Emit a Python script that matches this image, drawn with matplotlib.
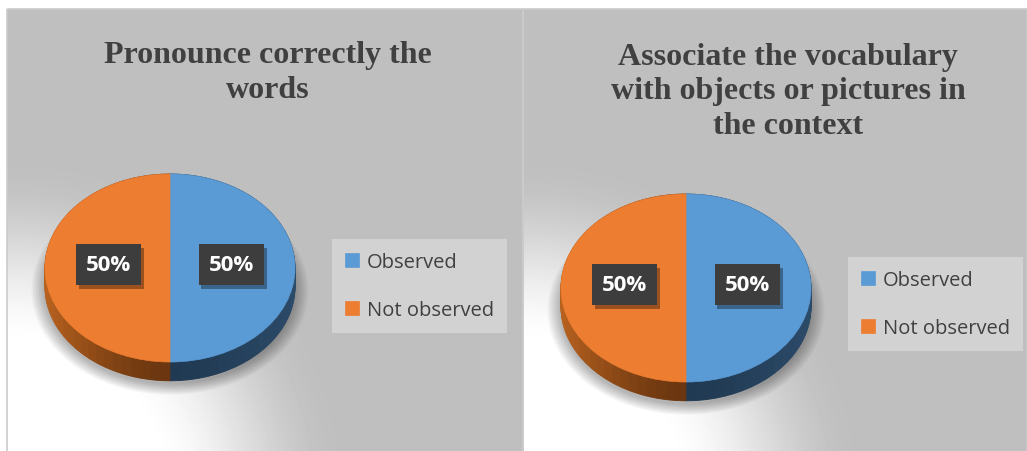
import numpy as np
import matplotlib.pyplot as plt
from matplotlib import colors as mcolors
from matplotlib import patheffects as pe
from matplotlib.patches import Rectangle

# data
titles = ["Pronounce correctly the\nwords",
          "Associate the vocabulary\nwith objects or pictures in\nthe context"]
categories = ["Observed", "Not observed"]
pronounce_shares = [50, 50]
associate_shares = [50, 50]

top_colors = ["#5b9bd5", "#ed7d31"]
side_dark = ["#213a53", "#6a3610"]
side_light = ["#2c4b69", "#b8621f"]

W, H = 1027, 452
fig = plt.figure(figsize=(W / 100, H / 100), dpi=100)
fig.patch.set_facecolor("white")

bg = fig.add_axes([0, 0, 1, 1])
bg.set_xlim(0, W)
bg.set_ylim(H, 0)
bg.axis("off")

# panel layout (pixels): left, right, pie centre, title centre, legend corner
panels = [
    dict(x0=7, x1=523, cx=170, cy=269, tx=268, ty=73, lx=332, ly=240),
    dict(x0=523, x1=1027, cx=686, cy=289, tx=788, ty=92, lx=848, ly=258),
]
rx, ry = 125, 94
depth = 0.2


def panel_background(p):
    xs = np.arange(p["x0"], p["x1"])
    ys = np.arange(10, H)
    X, Y = np.meshgrid(xs, ys)
    r = np.hypot(X - p["x0"], Y - 500)
    t = np.clip((r - 150) / 190, 0, 1)
    t = t * t * (3 - 2 * t)
    val = (255 * (1 - t) + 191 * t) / 255
    bg.imshow(val, cmap="gray", vmin=0, vmax=1, extent=(p["x0"], p["x1"], H, 10),
              interpolation="bilinear", aspect="auto", zorder=0)
    bg.add_patch(Rectangle((p["x0"], 10), p["x1"] - p["x0"], H, fill=False,
                           ec="#cbcbcb", lw=1.2, zorder=1))


def side_colors(values, n=40):
    total = float(sum(values))
    cols, parts = [], []
    cum = 0.0
    for i, v in enumerate(values):
        for k in range(n):
            ang = np.deg2rad(90 - (cum + (k + 0.5) * v / n) / total * 360)
            f = abs(np.cos(ang)) ** 1.5
            c0 = np.array(mcolors.to_rgb(side_dark[i]))
            c1 = np.array(mcolors.to_rgb(side_light[i]))
            cols.append(c0 * (1 - f) + c1 * f)
            parts.append(v / n)
        cum += v
    return parts, cols


def match_edges(wedges, lw):
    for w in wedges:
        w.set_edgecolor(w.get_facecolor())
        w.set_linewidth(lw)


def draw_pie(p, values, title):
    panel_background(p)
    xl, xr = -1.2, 1.2
    yb, yt = -1.4, 1.1
    left = p["cx"] + xl * rx
    bottom_px = p["cy"] - yb * ry
    ax = fig.add_axes([left / W, (H - bottom_px) / H,
                       (xr - xl) * rx / W, (yt - yb) * ry / H])

    # soft shadow
    for k in range(10):
        ax.pie(values, colors=["black"] * len(values), radius=1.0 + 0.012 * k,
               center=(0, -depth - 0.04), startangle=90, counterclock=False,
               wedgeprops=dict(alpha=0.03, lw=0))

    parts, cols = side_colors(values)
    for d in np.linspace(depth, 0.0, 24):
        sw, _ = ax.pie(parts, colors=cols, center=(0, -d), startangle=90,
                       counterclock=False)
        match_edges(sw, 0.6)

    wedges, _, autotexts = ax.pie(values, colors=top_colors, startangle=90,
                                  counterclock=False, autopct="%d%%", pctdistance=0.49,
                                  textprops=dict(color="white", fontsize=16,
                                                 family="Open Sans", weight="bold"))
    match_edges(wedges, 0.5)
    for t in autotexts:
        t.set_y(t.get_position()[1] + 0.04)
        t.set_bbox(dict(boxstyle="square,pad=0.45", fc="#3d3d3d", ec="none"))
        t.get_bbox_patch().set_path_effects(
            [pe.withSimplePatchShadow(offset=(2, -3), shadow_rgbFace="black", alpha=0.35)])

    ax.set_aspect("auto")
    ax.set_xlim(xl, xr)
    ax.set_ylim(yb, yt)
    ax.axis("off")

    fig.text(p["tx"] / W, 1 - p["ty"] / H, title, ha="center", va="center",
             family="Liberation Serif", weight="bold", fontsize=23,
             color="#404040", linespacing=1.25)

    leg = ax.legend(wedges, categories, loc="upper left",
                    bbox_to_anchor=(p["lx"] / W, 1 - p["ly"] / H),
                    bbox_transform=fig.transFigure, fancybox=False, framealpha=1,
                    facecolor="#d2d2d2", edgecolor="none",
                    prop=dict(family="Open Sans", size=14.5), labelcolor="#404040",
                    handlelength=0.7, handleheight=0.7, handletextpad=0.4,
                    labelspacing=1.4, borderpad=0.65, borderaxespad=0)
    leg.get_frame().set_linewidth(0)


draw_pie(panels[0], pronounce_shares, titles[0])
draw_pie(panels[1], associate_shares, titles[1])

fig.savefig("out.png", dpi=100)
